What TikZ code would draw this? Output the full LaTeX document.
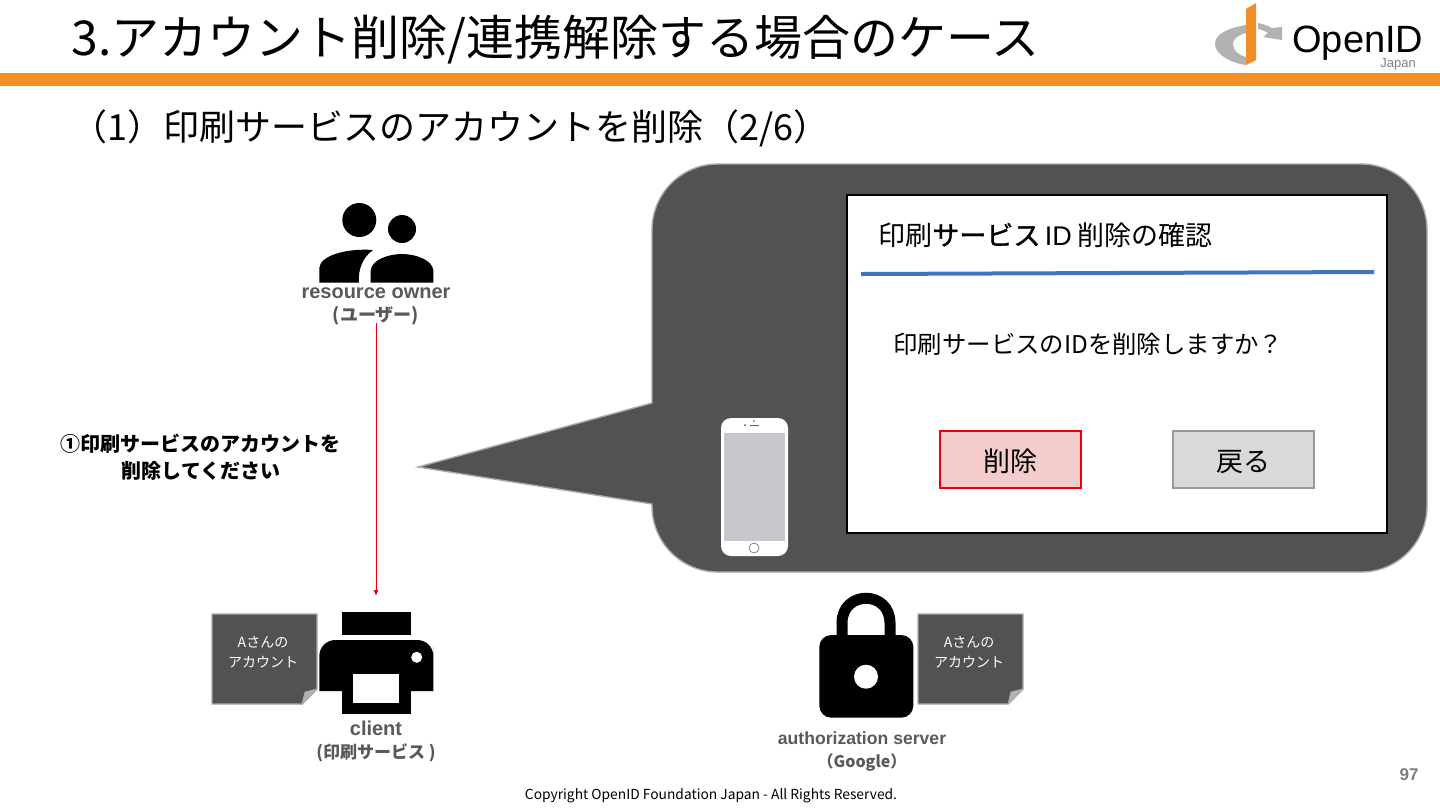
\documentclass[tikz,border=0pt]{standalone}
\usepackage{fontspec}
\setmainfont{Noto Sans CJK JP}
\newfontfamily\latinfont{Liberation Sans}
\newfontfamily\fauxgras[FakeBold=1.2]{Noto Sans CJK JP}
\usetikzlibrary{arrows.meta, positioning}
\definecolor{orangeband}{RGB}{242,142,38}
\definecolor{grisfonce}{RGB}{82,82,82}
\definecolor{gristexte}{RGB}{89,89,89}
\definecolor{bordgris}{RGB}{170,170,170}
\definecolor{bleuligne}{RGB}{68,114,196}
\definecolor{rose}{RGB}{244,204,204}
\definecolor{rouge}{RGB}{235,0,10}
\definecolor{ecran}{RGB}{200,200,204}
\tikzset{
  label/.style={font=\bfseries\fontsize{10}{11.5}\selectfont, text=gristexte, align=center, inner sep=0pt},
  notebox/.style={fill=grisfonce, draw=bordgris, line width=0.7pt},
  notetext/.style={font=\fontsize{7}{10}\selectfont, text=white, align=center, inner sep=0pt},
  button/.style={minimum width=70.5pt, minimum height=28.5pt, inner sep=0pt, line width=1pt, text height=12pt, text depth=0pt, font=\fontsize{13.5}{15}\selectfont}
}
\begin{document}
\begin{tikzpicture}[x=0.5pt, y=-0.5pt]
  \useasboundingbox (0,0) rectangle (1440,810);
  % title
  \node[anchor=west, inner sep=0pt, font=\fontsize{24}{28}\selectfont] (title) at (71,40) {3.アカウント削除/連携解除する場合のケース};
  \fill[orangeband] (0,73) rectangle (1440,86);
  \node[anchor=west, inner sep=0pt, font=\fontsize{18}{22}\selectfont] (subtitle) at (71,128) {（1）印刷サービスのアカウントを削除（2/6）};
  % logo
  \fill[bordgris!90] (1246,25) .. controls (1228,28) and (1215,34) .. (1215,44) .. controls (1215,54) and (1230,63) .. (1246,65) -- (1246,57) .. controls (1238,55) and (1233,50) .. (1233,44) .. controls (1233,39) and (1238,35) .. (1246,33) -- cycle;
  \fill[orangeband] (1246,9) -- (1256,3) -- (1256,60) -- (1246,65) -- cycle;
  \fill[bordgris!90] (1258,23) .. controls (1264,24) and (1268,26) .. (1272,28) -- (1282,27) -- (1282,40) -- (1263,37) -- (1268,33) .. controls (1265,31) and (1262,30) .. (1258,29) -- cycle;
  \node[anchor=west, inner sep=0pt, text depth=0pt, font=\latinfont\fontsize{19}{22}\selectfont] (openid) at (1292,39) {OpenID};
  \node[anchor=west, inner sep=0pt, text=gray, font=\latinfont\fontsize{6.5}{8}\selectfont] (japan) at (1380,64) {Japan};
  % bubble
  \draw[fill=grisfonce, draw=bordgris, line width=0.7pt] (418,467) -- (652,403) -- (652,230) .. controls (652,193.5) and (681.5,164) .. (718,164) -- (1361,164) .. controls (1397.5,164) and (1427,193.5) .. (1427,230) -- (1427,506) .. controls (1427,542.5) and (1397.5,572) .. (1361,572) -- (718,572) .. controls (681.5,572) and (652,542.5) .. (652,506) -- (652,504) -- cycle;
  % dialog
  \draw[fill=white, draw=black, line width=0.7pt] (847,195) rectangle (1387,533);
  \node[anchor=west, inner sep=0pt, font=\fontsize{13.5}{15}\selectfont] (dialogtitle) at (878,235) {印刷{\fauxgras サービス}\,{\latinfont ID} 削除の確認};
  \draw[bleuligne, line width=2pt] (861,274) -- (1374,272);
  \node[anchor=west, inner sep=0pt, font=\fontsize{12.2}{15}\selectfont] (question) at (893,344) {印刷サービスのIDを削除しますか？};
  \node[button, draw=rouge, fill=rose] (delete) at (1010,459) {削除};
  \node[button, draw=gray!80, fill=gray!30] (back) at (1243,459) {戻る};
  % phone
  \fill[white, rounded corners=5pt] (721,418) rectangle (788,556);
  \fill[ecran] (724,433) rectangle (785,541);
  \draw[gray, line width=0.4pt] (754,548) circle (5);
  \draw[gray!70!black, line width=0.5pt] (750,425) -- (759,425);
  \fill[gray!70!black] (745,425) circle (1);
  \fill[gray!70!black] (754,421) circle (0.8);
  % owner
  \fill (359.3,220) circle (17);
  \fill (402,229) circle (14);
  \fill (319.3,282.7) -- (319.3,268) .. controls (320,256) and (345,248) .. (373,250) .. controls (362,258) and (358,270) .. (359,282.7) -- cycle;
  \fill (370.7,282.7) -- (370.7,270) .. controls (372,260) and (388,254) .. (402,254) .. controls (416,254) and (432,260) .. (433.3,270) -- (433.3,282.7) -- cycle;
  \node[label] (owner) at (376,306) {{\latinfont resource owner}\\{\fontsize{9}{11.5}\selectfont (ユーザー)}};
  % printer
  \fill (342,612) rectangle (411,635);
  \fill (319.3,691) -- (319.3,662) [rounded corners=8pt] -- (319.3,640) -- (433.3,640) -- (433.3,662) [sharp corners] -- (433.3,691) -- cycle;
  \fill (342,680) rectangle (411,714);
  \fill[white] (353.3,674) rectangle (399.3,702.7);
  \fill[white] (416.7,657.3) circle (5.5);
  \node[label] (client) at (376,741) {{\latinfont client}\\{\fontsize{8.5}{11.5}\selectfont (印刷サービス )}};
  \coordinate (clienttop) at (376,596);
  \draw[-{Latex[length=3pt,width=2.5pt]}, rouge, line width=0.5pt, shorten <=-1pt] (owner.south) -- (clienttop);
  \node[align=center, inner sep=0pt, font=\bfseries\fontsize{10}{13.5}\selectfont] (request) at (201,457) {①印刷サービスのアカウントを\\削除してください};
  % account notes
  \draw[notebox] (212,614) -- (317,614) -- (317,689) -- (302,704) -- (212,704) -- cycle;
  \draw[fill=gray!60, draw=bordgris, line width=0.4pt] (302,704) -- (305,692) -- (317,689) -- cycle;
  \node[notetext] (noteclient) at (263,652) {Aさんの\\アカウント};
  \draw[notebox] (918,614) -- (1023,614) -- (1023,689) -- (1008,704) -- (918,704) -- cycle;
  \draw[fill=gray!60, draw=bordgris, line width=0.4pt] (1008,704) -- (1011,692) -- (1023,689) -- cycle;
  \node[notetext] (noteserver) at (969,652) {Aさんの\\アカウント};
  % lock
  \draw[line width=5.5pt] (842,640) -- (842,623) .. controls (842,590) and (890,590) .. (890,623) -- (890,640);
  \fill[rounded corners=6pt] (819.3,635) rectangle (913.3,717.7);
  \fill[white] (866,676.7) circle (12);
  \node[label, font=\bfseries\fontsize{8.8}{11.5}\selectfont] (server) at (862,752) {{\latinfont authorization server}\\{\fontsize{8}{11.5}\selectfont （Google）}};
  % footer
  \node[inner sep=0pt, font=\fontsize{6.9}{9}\selectfont] (copyright) at (711,796) {Copyright OpenID Foundation Japan - All Rights Reserved.};
  \node[inner sep=0pt, text=gray, font=\latinfont\bfseries\fontsize{8.5}{10}\selectfont] (pagenum) at (1409,775) {97};
\end{tikzpicture}
\end{document}
